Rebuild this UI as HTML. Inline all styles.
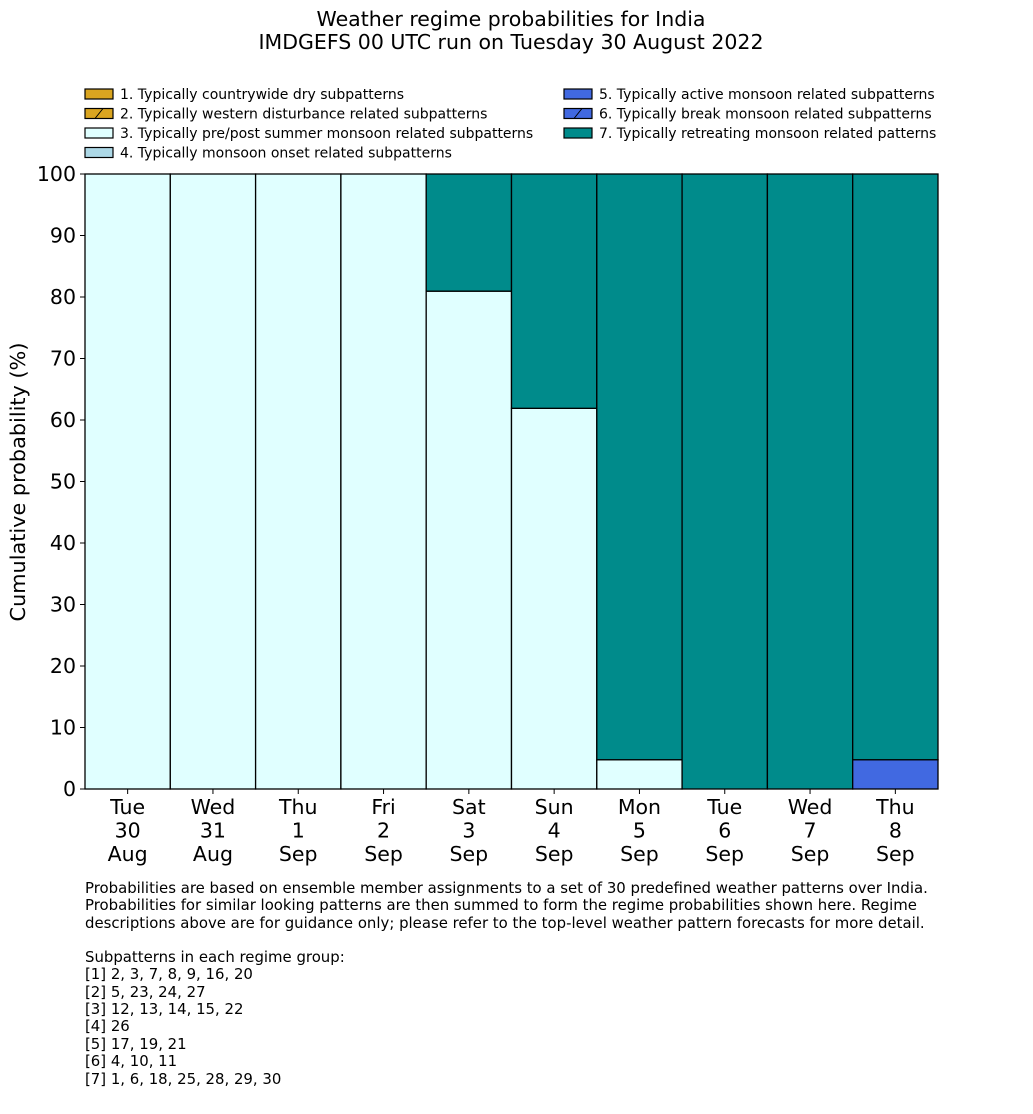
<!DOCTYPE html>
<html><head><meta charset="utf-8"><style>
body{margin:0;background:#fff;}
svg{display:block;font-family:"DejaVu Sans","Liberation Sans",sans-serif;}
</style></head><body>
<svg id="c" width="1033" height="1114">
<text x="511" y="26" font-size="20.5" text-anchor="middle">Weather regime probabilities for India</text>
<text x="511" y="49" font-size="20.5" text-anchor="middle">IMDGEFS 00 UTC run on Tuesday 30 August 2022</text>
<defs><pattern id="hatch" width="8" height="8" patternUnits="userSpaceOnUse"><line x1="0" y1="8" x2="8" y2="0" stroke="#000" stroke-width="1"/></pattern></defs>
<g id="legend"></g>
<g id="bars"></g>
<g id="axes"></g>
<text transform="translate(25,482) rotate(-90)" font-size="20.8" text-anchor="middle">Cumulative probability (%)</text>
<g font-size="14.9">
<text x="85" y="893">Probabilities are based on ensemble member assignments to a set of 30 predefined weather patterns over India.</text>
<text x="85" y="910">Probabilities for similar looking patterns are then summed to form the regime probabilities shown here. Regime</text>
<text x="85" y="928">descriptions above are for guidance only; please refer to the top-level weather pattern forecasts for more detail.</text>
<text x="85" y="962">Subpatterns in each regime group:</text>
<text x="85" y="979">[1] 2, 3, 7, 8, 9, 16, 20</text>
<text x="85" y="997">[2] 5, 23, 24, 27</text>
<text x="85" y="1014">[3] 12, 13, 14, 15, 22</text>
<text x="85" y="1031">[4] 26</text>
<text x="85" y="1049">[5] 17, 19, 21</text>
<text x="85" y="1066">[6] 4, 10, 11</text>
<text x="85" y="1084">[7] 1, 6, 18, 25, 28, 29, 30</text>
</g>
</svg>
<script>
const days=["Tue","Wed","Thu","Fri","Sat","Sun","Mon","Tue","Wed","Thu"];
const dates=["30","31","1","2","3","4","5","6","7","8"];
const months=["Aug","Aug","Sep","Sep","Sep","Sep","Sep","Sep","Sep","Sep"];
const regimeNames=["1. Typically countrywide dry subpatterns","2. Typically western disturbance related subpatterns","3. Typically pre/post summer monsoon related subpatterns","4. Typically monsoon onset related subpatterns","5. Typically active monsoon related subpatterns","6. Typically break monsoon related subpatterns","7. Typically retreating monsoon related patterns"];
const regimeColors=["#DAA520","#DAA520","#E0FFFF","#ADD8E6","#4169E1","#4169E1","#008B8B"];
const regimeHatch=[false,true,false,false,false,true,false];
const r1=[0,0,0,0,0,0,0,0,0,0];
const r2=[0,0,0,0,0,0,0,0,0,0];
const r3=[100,100,100,100,80.95,61.9,4.76,0,0,0];
const r4=[0,0,0,0,0,0,0,0,0,0];
const r5=[0,0,0,0,0,0,0,0,0,4.76];
const r6=[0,0,0,0,0,0,0,0,0,0];
const r7=[0,0,0,0,19.05,38.1,95.24,100,100,95.24];
const yTicks=[0,10,20,30,40,50,60,70,80,90,100];
const series=[r1,r2,r3,r4,r5,r6,r7];
const NS="http://www.w3.org/2000/svg";
const X0=85,X1=938,Y0=789,Y1=174;
const bw=(X1-X0)/days.length;
const xs=i=>X0+i*bw;
const ys=v=>Y0-(v/100)*(Y0-Y1);
function mk(tag,attrs,parent){const e=document.createElementNS(NS,tag);for(const k in attrs)e.setAttribute(k,attrs[k]);parent.appendChild(e);return e;}
const bars=document.getElementById('bars'),axes=document.getElementById('axes'),legend=document.getElementById('legend');
days.forEach((d,i)=>{let cum=0;series.forEach((s,j)=>{const v=s[i];if(v<=0)return;
 const r=mk('rect',{x:xs(i),y:ys(cum+v),width:bw,height:ys(cum)-ys(cum+v),fill:regimeColors[j],stroke:'#000','stroke-width':1.3},bars);
 
 
 if(regimeHatch[j]){const h=mk('rect',{x:xs(i),y:ys(cum+v),width:bw,height:ys(cum)-ys(cum+v),fill:'url(#hatch)'},bars);}
 cum+=v;});
 const t=mk('text',{x:xs(i)+bw/2,'font-size':20.5,'text-anchor':'middle'},axes);
 
 
 [days[i],dates[i],months[i]].forEach((s,k)=>{const ts=mk('tspan',{x:xs(i)+bw/2,y:814+k*23.5},t);ts.textContent=s;});
 const tk=mk('line',{x1:xs(i)+bw/2,x2:xs(i)+bw/2,y1:Y0,y2:Y0+5,stroke:'#000'},axes);
 
 
});
yTicks.forEach(v=>{const l=mk('line',{x1:X0-5,x2:X0,y1:ys(v),y2:ys(v),stroke:'#000'},axes);
 
 
 const t=mk('text',{x:X0-9,y:ys(v)+7,'font-size':20.5,'text-anchor':'end'},axes);t.textContent=v;
 
 });
const ax=mk('path',{d:`M${X0},${Y1}V${Y0}H${X1}`,fill:'none',stroke:'#000','stroke-width':1},axes);


regimeNames.forEach((n,j)=>{const col=j<4?0:1,row=j<4?j:j-4;const lx=col?564:85,ly=89+row*19.5;
 const r=mk('rect',{x:lx,y:ly,width:28,height:10,fill:regimeColors[j],stroke:'#000','stroke-width':1.2},legend);
 
 
 if(regimeHatch[j]){const h=mk('line',{x1:lx+10,y1:ly+10,x2:lx+18,y2:ly,stroke:'#000'},legend);}
 const t=mk('text',{x:lx+35,y:ly+10,'font-size':14,},legend);t.textContent=n;
 
 });
</script>
</body></html>
